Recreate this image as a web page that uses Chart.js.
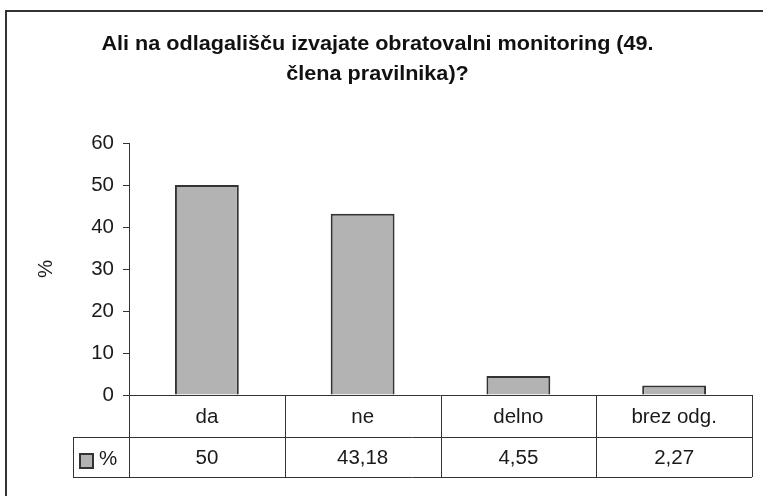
<!DOCTYPE html>
<html>
<head>
<meta charset="utf-8">
<script src="https://cdn.jsdelivr.net/npm/chart.js@4/dist/chart.umd.min.js"></script>
<style>
  html, body { margin: 0; padding: 0; background: #fff; overflow: hidden; }
  #wrap { position: relative; width: 763px; height: 496px; }
  #frame { position: absolute; left: 5px; top: 10px; width: 800px; height: 600px; border: 2px solid #333; box-sizing: border-box; }
  #title { position: absolute; left: 0; width: 755px; top: 28px; text-align: center;
           font-family: "Liberation Sans", Arial, sans-serif; font-weight: bold; font-size: 20px;
           line-height: 30px; color: #111; transform: scaleX(1.08); transform-origin: 377px 0; }
  canvas { position: absolute; left: 0; top: 0; }
</style>
</head>
<body>
<div id="wrap">
  <div id="frame"></div>
  <canvas id="c" width="763" height="496"></canvas>
  <div id="title">Ali na odlagališču izvajate obratovalni monitoring (49.<br>člena pravilnika)?</div>
</div>
<script>
const categories = ['da', 'ne', 'delno', 'brez odg.'];
const seriesName = '%';
const values = [50, 43.18, 4.55, 2.27];
const yTicks = [0, 10, 20, 30, 40, 50, 60];

const FONT = '"Liberation Sans", Arial, sans-serif';
const INK = '#1a1a1a';
const LINE = '#333';
const BAR = '#b3b3b3';
const FS = 20.5;

const fmt = v => String(v).replace('.', ',');

const tablePlugin = {
  id: 'dataTable',
  afterDraw(chart) {
    const ctx = chart.ctx;
    const area = chart.chartArea;
    const x = chart.scales.x;
    const n = categories.length;
    const top = area.bottom;
    const row1 = top + 42;
    const row2 = row1 + 40;
    const leftKey = 73;
    const colW = (area.right - area.left) / n;
    ctx.save();
    ctx.strokeStyle = LINE;
    ctx.lineWidth = 1;
    ctx.beginPath();
    ctx.moveTo(area.left, top + 0.5); ctx.lineTo(area.right, top + 0.5);
    ctx.moveTo(leftKey, row1 + 0.5); ctx.lineTo(area.right, row1 + 0.5);
    ctx.moveTo(leftKey, row2 + 0.5); ctx.lineTo(area.right, row2 + 0.5);
    ctx.moveTo(leftKey + 0.5, row1); ctx.lineTo(leftKey + 0.5, row2);
    for (let i = 0; i <= n; i++) {
      const px = Math.round(area.left + i * colW) + 0.5;
      ctx.moveTo(px, top); ctx.lineTo(px, row2);
    }
    ctx.stroke();

    ctx.fillStyle = INK;
    ctx.font = FS + 'px ' + FONT;
    ctx.textAlign = 'center';
    ctx.textBaseline = 'middle';
    categories.forEach((c, i) => {
      const cx = x.getPixelForValue(i);
      ctx.fillText(c, cx, (top + row1) / 2 + 1);
      ctx.fillText(fmt(values[i]), cx, (row1 + row2) / 2 + 1);
    });
    // legend key
    ctx.fillStyle = BAR;
    ctx.fillRect(80, 454, 13, 14);
    ctx.strokeStyle = LINE;
    ctx.lineWidth = 2;
    ctx.strokeRect(80, 454, 13, 14);
    ctx.fillStyle = INK;
    ctx.textAlign = 'left';
    ctx.fillText(seriesName, 99, 459);

    // y axis title
    ctx.translate(46, 269);
    ctx.rotate(-Math.PI / 2);
    ctx.textAlign = 'center';
    ctx.fillText(seriesName, 0, 0);
    ctx.restore();
  }
};

new Chart(document.getElementById('c'), {
  type: 'bar',
  data: {
    labels: categories,
    datasets: [{
      label: seriesName,
      data: values,
      backgroundColor: BAR,
      borderColor: LINE,
      borderWidth: 2,
      categoryPercentage: 1,
      barPercentage: 0.41
    }]
  },
  options: {
    responsive: false,
    animation: false,
    events: [],
    layout: { padding: { left: 0, right: 11, top: 143, bottom: 101 } },
    plugins: { legend: { display: false }, title: { display: false }, tooltip: { enabled: false } },
    scales: {
      x: { display: false, offset: true },
      y: {
        min: 0, max: 60,
        afterFit(scale) { scale.width = 129; },
        afterBuildTicks(scale) { scale.ticks = yTicks.map(v => ({ value: v })); },
        ticks: { color: INK, font: { family: FONT, size: FS }, padding: 9 },
        grid: { drawOnChartArea: false, drawTicks: true, tickLength: 6, color: LINE },
        border: { display: true, color: LINE, width: 1 }
      }
    }
  },
  plugins: [tablePlugin]
});
</script>
</body>
</html>
